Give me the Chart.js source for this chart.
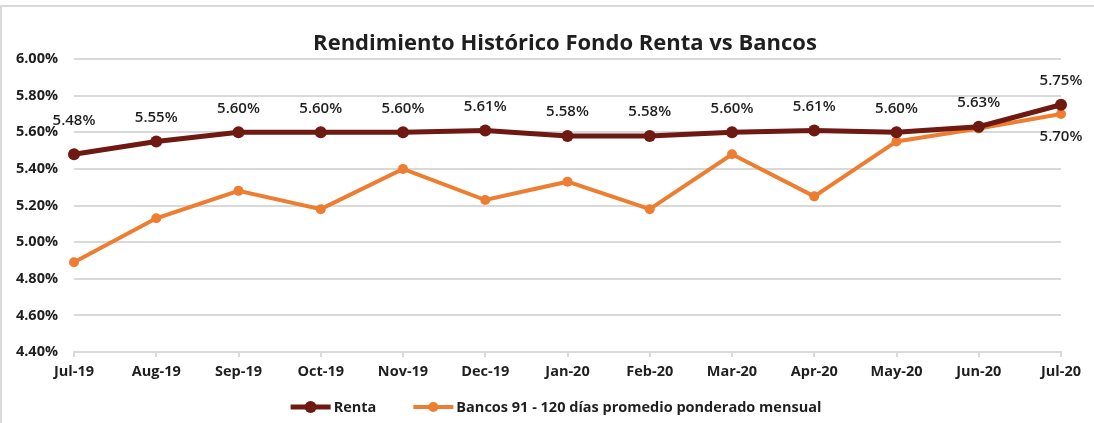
<!DOCTYPE html>
<html><head><meta charset="utf-8">
<script src="https://cdn.jsdelivr.net/npm/chart.js@4.4.0/dist/chart.umd.min.js"></script>
<style>html,body{margin:0;padding:0;background:#fff;}canvas{display:block}</style>
</head><body>
<canvas id="c" width="1094" height="423"></canvas>
<script>
const categories = ['Jul-19','Aug-19','Sep-19','Oct-19','Nov-19','Dec-19','Jan-20','Feb-20','Mar-20','Apr-20','May-20','Jun-20','Jul-20'];
const rentaValues = [5.48,5.55,5.60,5.60,5.60,5.61,5.58,5.58,5.60,5.61,5.60,5.63,5.75];
const bancosValues = [4.89,5.13,5.28,5.18,5.40,5.23,5.33,5.18,5.48,5.25,5.55,5.62,5.70];
const yTickValues = [4.40,4.60,4.80,5.00,5.20,5.40,5.60,5.80,6.00];
const seriesNames = ['Renta','Bancos 91 - 120 días promedio ponderado mensual'];
const chartTitle = 'Rendimiento Histórico Fondo Renta vs Bancos';

const FONT = '"Open Sans", "Noto Sans", sans-serif';
const TEXT = '#1f1f1f';
const RENTA_COLOR = '#6E1A12';
const BANCOS_COLOR = '#ED7D31';

const fmt = v => v.toFixed(2) + '%';

const decor = {
  id: 'decor',
  beforeDraw(chart) {
    const ctx = chart.ctx;
    ctx.save();
    ctx.fillStyle = '#fff';
    ctx.fillRect(0, 0, chart.width, chart.height);
    ctx.strokeStyle = '#d9d9d9';
    ctx.lineWidth = 2;
    ctx.beginPath();
    ctx.moveTo(1, chart.height);
    ctx.lineTo(1, 6);
    ctx.lineTo(chart.width, 6);
    ctx.stroke();
    ctx.restore();
  },
  afterDatasetsDraw(chart) {
    const ctx = chart.ctx;
    ctx.save();
    ctx.font = '600 15px ' + FONT;
    ctx.fillStyle = TEXT;
    ctx.textAlign = 'center';
    ctx.textBaseline = 'middle';
    const m0 = chart.getDatasetMeta(0);
    m0.data.forEach((pt, i) => {
      const off = i === 0 ? -33 : -24;
      ctx.fillText(fmt(rentaValues[i]), pt.x, pt.y + off);
    });
    const m1 = chart.getDatasetMeta(1);
    const last = m1.data.length - 1;
    const p = m1.data[last];
    ctx.fillText(fmt(bancosValues[last]), p.x, p.y + 23);
    ctx.restore();
  },
  afterDraw(chart) {
    const ctx = chart.ctx;
    ctx.save();
    ctx.font = 'bold 22px ' + FONT;
    ctx.fillStyle = TEXT;
    ctx.textAlign = 'center';
    ctx.textBaseline = 'middle';
    ctx.fillText(chartTitle, 565, 44);
    ctx.font = 'bold 14.5px ' + FONT;
    const lineLen = 40, gapText = 3, gapItems = 37, ly = 407;
    const items = chart.data.datasets.map(ds => ({ds, w: lineLen + gapText + ctx.measureText(ds.label).width}));
    const total = items.reduce((s, it) => s + it.w, 0) + gapItems * (items.length - 1);
    let x = 556 - total / 2;
    items.forEach(({ds, w}) => {
      ctx.strokeStyle = ds.borderColor;
      ctx.lineWidth = ds.borderWidth;
      ctx.beginPath();
      ctx.moveTo(x, ly);
      ctx.lineTo(x + lineLen, ly);
      ctx.stroke();
      ctx.fillStyle = ds.pointBackgroundColor;
      ctx.beginPath();
      ctx.arc(x + lineLen / 2, ly, ds.pointRadius, 0, Math.PI * 2);
      ctx.fill();
      ctx.fillStyle = TEXT;
      ctx.textAlign = 'left';
      ctx.fillText(ds.label, x + lineLen + gapText, ly + 1);
      x += w + gapItems;
    });
    ctx.restore();
  }
};

new Chart(document.getElementById('c'), {
  type: 'line',
  data: {
    labels: categories,
    datasets: [
      {
        label: seriesNames[0], data: rentaValues,
        borderColor: RENTA_COLOR, backgroundColor: RENTA_COLOR,
        pointBackgroundColor: RENTA_COLOR, pointBorderColor: RENTA_COLOR,
        borderWidth: 5, pointRadius: 6, pointBorderWidth: 0, tension: 0, order: 0
      },
      {
        label: seriesNames[1], data: bancosValues,
        borderColor: BANCOS_COLOR, backgroundColor: BANCOS_COLOR,
        pointBackgroundColor: BANCOS_COLOR, pointBorderColor: BANCOS_COLOR,
        borderWidth: 4, pointRadius: 5, pointBorderWidth: 0, tension: 0, order: 1
      }
    ]
  },
  options: {
    responsive: false,
    animation: false,
    devicePixelRatio: 1,
    layout: { padding: { top: 59, right: 33, bottom: 40, left: 0 } },
    plugins: { legend: { display: false }, title: { display: false }, tooltip: { enabled: false } },
    scales: {
      x: {
        type: 'category',
        offset: false,
        afterFit: s => { s.height = 31; },
        grid: { drawOnChartArea: false, drawTicks: true, tickLength: 5, color: '#d9d9d9', lineWidth: 2 },
        border: { display: true, color: '#d9d9d9', width: 2 },
        ticks: { color: TEXT, font: { family: FONT, size: 14.5, weight: 'bold' }, padding: 6, maxRotation: 0, autoSkip: false }
      },
      y: {
        min: 4.4, max: 6.0,
        afterFit: s => { s.width = 74; },
        afterBuildTicks: s => { s.ticks = yTickValues.map(v => ({value: v})); },
        grid: { drawTicks: false, color: '#d9d9d9', lineWidth: 2 },
        border: { display: false },
        ticks: { color: TEXT, font: { family: FONT, size: 14.5, weight: 'bold' }, padding: 16, callback: v => fmt(v) }
      }
    }
  },
  plugins: [decor]
});
</script>
</body></html>
